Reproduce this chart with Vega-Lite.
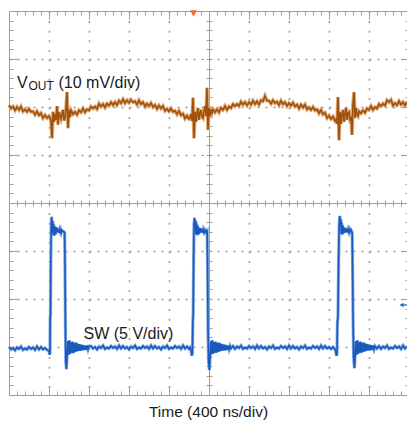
{
"$schema": "https://vega.github.io/schema/vega-lite/v6.json",
"width": 398, "height": 384,
"autosize": {"type": "none"},
"padding": {"left": 9, "top": 11, "right": 0, "bottom": 26},
"background": "white",
"config": {"view": {"stroke": null}},
"datasets": {
"vout": [
{"t":0,"v":2.04},{"t":20,"v":1.97},{"t":40,"v":2.01},{"t":60,"v":1.93},{"t":80,"v":2.00},{"t":100,"v":1.94},{"t":120,"v":2.01},{"t":140,"v":1.91},{"t":160,"v":1.95},{"t":180,"v":1.90},{"t":200,"v":1.96},{"t":220,"v":1.90},{"t":240,"v":1.91},{"t":260,"v":1.84},{"t":280,"v":1.91},{"t":300,"v":1.83},{"t":320,"v":1.87},{"t":340,"v":1.77},{"t":360,"v":1.83},{"t":380,"v":1.77},{"t":400,"v":1.81},
{"t":410,"v":1.77},{"t":420,"v":1.71},{"t":430,"v":1.35},{"t":440,"v":1.90},{"t":450,"v":1.69},{"t":460,"v":1.85},{"t":470,"v":1.73},{"t":480,"v":2.02},{"t":490,"v":1.63},{"t":500,"v":1.90},{"t":510,"v":1.80},{"t":520,"v":1.75},{"t":530,"v":1.86},{"t":540,"v":1.94},{"t":550,"v":1.72},{"t":560,"v":1.77},{"t":570,"v":1.98},{"t":580,"v":2.31},{"t":590,"v":1.56},{"t":600,"v":1.94},{"t":610,"v":1.79},
{"t":620,"v":1.93},{"t":640,"v":1.85},{"t":660,"v":1.90},{"t":680,"v":1.84},{"t":700,"v":1.93},{"t":720,"v":1.89},{"t":740,"v":1.97},{"t":760,"v":1.89},{"t":780,"v":1.95},{"t":800,"v":1.93},{"t":820,"v":2.01},{"t":840,"v":1.97},{"t":860,"v":2.01},{"t":880,"v":1.96},{"t":900,"v":2.07},{"t":920,"v":2.01},{"t":940,"v":2.06},{"t":960,"v":1.99},{"t":980,"v":2.07},{"t":1000,"v":2.03},{"t":1020,"v":2.10},{"t":1040,"v":2.04},{"t":1060,"v":2.10},{"t":1080,"v":2.04},{"t":1100,"v":2.13},{"t":1120,"v":2.08},{"t":1140,"v":2.16},{"t":1160,"v":2.08},{"t":1180,"v":2.14},{"t":1200,"v":2.09},{"t":1220,"v":2.15},{"t":1240,"v":2.10},{"t":1260,"v":2.12},{"t":1280,"v":2.05},{"t":1300,"v":2.14},{"t":1320,"v":2.06},{"t":1340,"v":2.10},{"t":1360,"v":2.01},{"t":1380,"v":2.07},{"t":1400,"v":2.02},{"t":1420,"v":2.08},{"t":1440,"v":2.00},{"t":1460,"v":2.04},{"t":1480,"v":1.96},{"t":1500,"v":2.03},{"t":1520,"v":1.97},{"t":1540,"v":2.02},{"t":1560,"v":1.92},{"t":1580,"v":1.96},{"t":1600,"v":1.91},{"t":1620,"v":1.97},{"t":1640,"v":1.90},{"t":1660,"v":1.92},{"t":1680,"v":1.85},{"t":1700,"v":1.92},{"t":1720,"v":1.83},{"t":1740,"v":1.86},{"t":1760,"v":1.76},{"t":1780,"v":1.82},{"t":1800,"v":1.75},
{"t":1810,"v":1.77},{"t":1820,"v":1.85},{"t":1830,"v":1.71},{"t":1840,"v":2.19},{"t":1850,"v":1.35},{"t":1860,"v":1.90},{"t":1870,"v":1.69},{"t":1880,"v":1.86},{"t":1890,"v":1.98},{"t":1900,"v":1.73},{"t":1910,"v":1.88},{"t":1920,"v":1.94},{"t":1930,"v":1.80},{"t":1940,"v":1.77},{"t":1950,"v":1.92},{"t":1960,"v":2.02},{"t":1970,"v":1.81},{"t":1980,"v":2.40},{"t":1990,"v":1.52},{"t":2000,"v":1.98},{"t":2010,"v":1.81},{"t":2020,"v":1.95},{"t":2030,"v":1.88},
{"t":2040,"v":1.95},{"t":2060,"v":1.89},{"t":2080,"v":1.95},{"t":2100,"v":1.89},{"t":2120,"v":1.98},{"t":2140,"v":1.94},{"t":2160,"v":2.02},{"t":2180,"v":1.94},{"t":2200,"v":2.01},{"t":2220,"v":1.98},{"t":2240,"v":2.06},{"t":2260,"v":2.02},{"t":2280,"v":2.06},{"t":2300,"v":2.02},{"t":2320,"v":2.11},{"t":2340,"v":2.05},{"t":2360,"v":2.10},{"t":2380,"v":2.03},{"t":2400,"v":2.10},{"t":2420,"v":2.05},{"t":2440,"v":2.13},{"t":2460,"v":2.06},{"t":2480,"v":2.12},{"t":2500,"v":2.05},{"t":2520,"v":2.14},{"t":2540,"v":2.12},{"t":2560,"v":2.23},{"t":2580,"v":2.13},{"t":2600,"v":2.13},{"t":2620,"v":2.07},{"t":2640,"v":2.14},{"t":2660,"v":2.08},{"t":2680,"v":2.11},{"t":2700,"v":2.04},{"t":2720,"v":2.13},{"t":2740,"v":2.06},{"t":2760,"v":2.10},{"t":2780,"v":2.02},{"t":2800,"v":2.08},{"t":2820,"v":2.03},{"t":2840,"v":2.09},{"t":2860,"v":2.01},{"t":2880,"v":2.05},{"t":2900,"v":1.97},{"t":2920,"v":2.05},{"t":2940,"v":1.99},{"t":2960,"v":2.05},{"t":2980,"v":1.95},{"t":3000,"v":1.99},{"t":3020,"v":1.94},{"t":3040,"v":2.00},{"t":3060,"v":1.93},{"t":3080,"v":1.95},{"t":3100,"v":1.87},{"t":3120,"v":1.94},{"t":3140,"v":1.85},{"t":3160,"v":1.88},{"t":3180,"v":1.77},{"t":3200,"v":1.82},{"t":3220,"v":1.75},{"t":3240,"v":1.80},{"t":3260,"v":1.71},
{"t":3270,"v":1.73},{"t":3280,"v":1.65},{"t":3290,"v":2.21},{"t":3300,"v":1.31},{"t":3310,"v":1.90},{"t":3320,"v":1.65},{"t":3330,"v":1.84},{"t":3340,"v":1.94},{"t":3350,"v":1.69},{"t":3360,"v":1.86},{"t":3370,"v":1.98},{"t":3380,"v":1.73},{"t":3390,"v":1.88},{"t":3400,"v":1.90},{"t":3410,"v":1.74},{"t":3420,"v":1.77},{"t":3430,"v":1.42},{"t":3440,"v":2.06},{"t":3450,"v":2.31},{"t":3460,"v":1.77},{"t":3470,"v":1.98},{"t":3480,"v":1.84},{"t":3490,"v":1.81},
{"t":3500,"v":1.91},{"t":3520,"v":1.87},{"t":3540,"v":1.93},{"t":3560,"v":1.88},{"t":3580,"v":1.97},{"t":3600,"v":1.94},{"t":3620,"v":2.02},{"t":3640,"v":1.94},{"t":3660,"v":2.00},{"t":3680,"v":1.97},{"t":3700,"v":2.06},{"t":3720,"v":2.02},{"t":3740,"v":2.07},{"t":3760,"v":2.03},{"t":3780,"v":2.14},{"t":3800,"v":2.10},{"t":3820,"v":2.15},{"t":3840,"v":2.03},{"t":3860,"v":2.08},{"t":3880,"v":2.04},{"t":3900,"v":2.12},{"t":3920,"v":2.05},{"t":3940,"v":2.10},{"t":3960,"v":2.03},{"t":3980,"v":2.11}
],
"sw": [
{"t":0,"v":-3.00},{"t":20,"v":-3.05},{"t":40,"v":-3.02},{"t":60,"v":-3.07},{"t":80,"v":-3.01},{"t":100,"v":-3.04},{"t":120,"v":-2.99},{"t":140,"v":-3.06},{"t":160,"v":-3.03},{"t":180,"v":-3.05},{"t":200,"v":-3.00},{"t":220,"v":-3.04},{"t":240,"v":-3.01},{"t":260,"v":-3.06},{"t":280,"v":-2.99},{"t":300,"v":-3.05},{"t":320,"v":-3.00},{"t":340,"v":-3.05},{"t":360,"v":-3.02},{"t":380,"v":-3.06},
{"t":400,"v":-3.08},{"t":406,"v":-3.16},{"t":410,"v":-3.12},{"t":412,"v":-2.40},{"t":415,"v":-2.30},{"t":418,"v":-1.20},{"t":422,"v":-0.50},{"t":426,"v":-0.29},{"t":430,"v":-0.40},{"t":434,"v":-0.62},{"t":438,"v":-0.38},{"t":442,"v":-0.66},{"t":446,"v":-0.44},{"t":450,"v":-0.68},{"t":454,"v":-0.48},{"t":458,"v":-0.63},{"t":462,"v":-0.52},{"t":466,"v":-0.66},{"t":470,"v":-0.50},{"t":476,"v":-0.62},{"t":482,"v":-0.52},{"t":488,"v":-0.60},{"t":494,"v":-0.55},{"t":500,"v":-0.62},{"t":506,"v":-0.56},{"t":512,"v":-0.60},{"t":518,"v":-0.56},{"t":524,"v":-0.61},{"t":530,"v":-0.57},{"t":540,"v":-0.59},{"t":550,"v":-0.60},{"t":556,"v":-0.62},{"t":560,"v":-1.30},{"t":564,"v":-2.50},{"t":568,"v":-3.30},{"t":574,"v":-3.46},{"t":580,"v":-3.22},{"t":588,"v":-2.88},{"t":596,"v":-3.16},{"t":604,"v":-2.86},{"t":612,"v":-3.14},{"t":620,"v":-2.90},{"t":628,"v":-3.12},{"t":636,"v":-2.89},{"t":644,"v":-3.13},{"t":652,"v":-2.92},{"t":660,"v":-3.10},{"t":668,"v":-2.91},{"t":676,"v":-3.09},{"t":684,"v":-2.93},{"t":692,"v":-3.08},{"t":700,"v":-2.94},{"t":710,"v":-3.08},{"t":720,"v":-2.95},{"t":730,"v":-3.07},{"t":740,"v":-2.96},{"t":750,"v":-3.06},{"t":760,"v":-2.97},{"t":770,"v":-3.06},{"t":780,"v":-2.97},{"t":790,"v":-3.05},{"t":800,"v":-2.98},
{"t":820,"v":-2.98},{"t":840,"v":-3.03},{"t":860,"v":-3.00},{"t":880,"v":-3.05},{"t":900,"v":-2.99},{"t":920,"v":-3.02},{"t":940,"v":-2.97},{"t":960,"v":-3.04},{"t":980,"v":-3.01},{"t":1000,"v":-3.03},{"t":1020,"v":-2.98},{"t":1040,"v":-3.02},{"t":1060,"v":-2.99},{"t":1080,"v":-3.04},{"t":1100,"v":-2.97},{"t":1120,"v":-3.03},{"t":1140,"v":-2.98},{"t":1160,"v":-3.03},{"t":1180,"v":-3.00},{"t":1200,"v":-3.05},{"t":1220,"v":-2.99},{"t":1240,"v":-3.02},{"t":1260,"v":-2.97},{"t":1280,"v":-3.04},{"t":1300,"v":-3.01},{"t":1320,"v":-3.03},{"t":1340,"v":-2.98},{"t":1360,"v":-3.02},{"t":1380,"v":-2.99},{"t":1400,"v":-3.04},{"t":1420,"v":-2.97},{"t":1440,"v":-3.03},{"t":1460,"v":-2.98},{"t":1480,"v":-3.03},{"t":1500,"v":-3.00},{"t":1520,"v":-3.05},{"t":1540,"v":-2.99},{"t":1560,"v":-3.02},{"t":1580,"v":-2.97},{"t":1600,"v":-3.04},{"t":1620,"v":-3.01},{"t":1640,"v":-3.03},{"t":1660,"v":-2.98},{"t":1680,"v":-3.02},{"t":1700,"v":-2.99},{"t":1720,"v":-3.04},{"t":1740,"v":-2.97},{"t":1760,"v":-3.03},{"t":1780,"v":-2.99},{"t":1800,"v":-3.04},
{"t":1810,"v":-3.01},{"t":1820,"v":-3.06},{"t":1828,"v":-3.18},{"t":1834,"v":-3.12},{"t":1838,"v":-2.50},{"t":1842,"v":-2.30},{"t":1846,"v":-1.20},{"t":1850,"v":-0.45},{"t":1855,"v":-0.31},{"t":1860,"v":-0.45},{"t":1864,"v":-0.36},{"t":1868,"v":-0.64},{"t":1872,"v":-0.40},{"t":1876,"v":-0.66},{"t":1880,"v":-0.45},{"t":1884,"v":-0.67},{"t":1888,"v":-0.48},{"t":1892,"v":-0.63},{"t":1896,"v":-0.52},{"t":1900,"v":-0.65},{"t":1906,"v":-0.52},{"t":1912,"v":-0.62},{"t":1918,"v":-0.53},{"t":1924,"v":-0.60},{"t":1930,"v":-0.55},{"t":1936,"v":-0.62},{"t":1942,"v":-0.56},{"t":1948,"v":-0.60},{"t":1954,"v":-0.57},{"t":1960,"v":-0.61},{"t":1970,"v":-0.58},{"t":1976,"v":-0.62},{"t":1982,"v":-0.60},{"t":1986,"v":-1.40},{"t":1990,"v":-2.60},{"t":1996,"v":-3.30},{"t":2004,"v":-3.48},{"t":2010,"v":-3.26},{"t":2018,"v":-2.88},{"t":2026,"v":-3.15},{"t":2034,"v":-2.86},{"t":2042,"v":-3.14},{"t":2050,"v":-2.90},{"t":2058,"v":-3.12},{"t":2066,"v":-2.89},{"t":2074,"v":-3.12},{"t":2082,"v":-2.92},{"t":2090,"v":-3.10},{"t":2098,"v":-2.91},{"t":2106,"v":-3.09},{"t":2114,"v":-2.93},{"t":2122,"v":-3.08},{"t":2130,"v":-2.94},{"t":2140,"v":-3.07},{"t":2150,"v":-2.95},{"t":2160,"v":-3.07},{"t":2170,"v":-2.96},{"t":2180,"v":-3.06},{"t":2190,"v":-2.97},{"t":2200,"v":-3.05},{"t":2210,"v":-2.98},
{"t":2220,"v":-3.03},{"t":2240,"v":-2.98},{"t":2260,"v":-3.04},{"t":2280,"v":-2.99},{"t":2300,"v":-3.02},{"t":2320,"v":-2.97},{"t":2340,"v":-3.04},{"t":2360,"v":-3.01},{"t":2380,"v":-3.03},{"t":2400,"v":-2.98},{"t":2420,"v":-3.02},{"t":2440,"v":-2.99},{"t":2460,"v":-3.04},{"t":2480,"v":-2.97},{"t":2500,"v":-3.03},{"t":2520,"v":-2.98},{"t":2540,"v":-3.03},{"t":2560,"v":-3.00},{"t":2580,"v":-3.05},{"t":2600,"v":-2.99},{"t":2620,"v":-3.02},{"t":2640,"v":-2.97},{"t":2660,"v":-3.04},{"t":2680,"v":-3.01},{"t":2700,"v":-3.03},{"t":2720,"v":-2.98},{"t":2740,"v":-3.02},{"t":2760,"v":-2.99},{"t":2780,"v":-3.04},{"t":2800,"v":-2.97},{"t":2820,"v":-3.03},{"t":2840,"v":-2.98},{"t":2860,"v":-3.03},{"t":2880,"v":-3.00},{"t":2900,"v":-3.05},{"t":2920,"v":-2.99},{"t":2940,"v":-3.02},{"t":2960,"v":-2.97},{"t":2980,"v":-3.04},{"t":3000,"v":-3.01},{"t":3020,"v":-3.03},{"t":3040,"v":-2.98},{"t":3060,"v":-3.02},{"t":3080,"v":-2.99},{"t":3100,"v":-3.04},{"t":3120,"v":-2.97},{"t":3140,"v":-3.03},{"t":3160,"v":-2.98},{"t":3180,"v":-3.03},{"t":3200,"v":-3.00},{"t":3220,"v":-3.04},{"t":3240,"v":-3.00},{"t":3260,"v":-3.05},
{"t":3266,"v":-3.08},{"t":3274,"v":-3.18},{"t":3280,"v":-3.14},{"t":3284,"v":-2.50},{"t":3290,"v":-2.35},{"t":3296,"v":-1.20},{"t":3302,"v":-0.45},{"t":3308,"v":-0.27},{"t":3313,"v":-0.42},{"t":3318,"v":-0.34},{"t":3322,"v":-0.63},{"t":3326,"v":-0.40},{"t":3330,"v":-0.66},{"t":3334,"v":-0.46},{"t":3338,"v":-0.64},{"t":3342,"v":-0.49},{"t":3346,"v":-0.63},{"t":3350,"v":-0.52},{"t":3356,"v":-0.62},{"t":3362,"v":-0.52},{"t":3368,"v":-0.60},{"t":3374,"v":-0.54},{"t":3380,"v":-0.61},{"t":3386,"v":-0.56},{"t":3392,"v":-0.59},{"t":3398,"v":-0.55},{"t":3404,"v":-0.60},{"t":3410,"v":-0.56},{"t":3416,"v":-0.59},{"t":3422,"v":-0.57},{"t":3428,"v":-0.60},{"t":3432,"v":-0.62},{"t":3436,"v":-1.40},{"t":3440,"v":-2.30},{"t":3446,"v":-3.20},{"t":3454,"v":-3.44},{"t":3460,"v":-3.24},{"t":3468,"v":-2.88},{"t":3476,"v":-3.16},{"t":3484,"v":-2.86},{"t":3492,"v":-3.14},{"t":3500,"v":-2.90},{"t":3508,"v":-3.12},{"t":3516,"v":-2.89},{"t":3524,"v":-3.12},{"t":3532,"v":-2.92},{"t":3540,"v":-3.10},{"t":3548,"v":-2.91},{"t":3556,"v":-3.09},{"t":3564,"v":-2.93},{"t":3572,"v":-3.08},{"t":3580,"v":-2.94},{"t":3590,"v":-3.07},{"t":3600,"v":-2.95},{"t":3610,"v":-3.07},{"t":3620,"v":-2.96},{"t":3630,"v":-3.06},{"t":3640,"v":-2.97},{"t":3650,"v":-3.05},{"t":3660,"v":-2.98},
{"t":3680,"v":-3.03},{"t":3700,"v":-2.98},{"t":3720,"v":-3.04},{"t":3740,"v":-2.99},{"t":3760,"v":-3.02},{"t":3780,"v":-2.97},{"t":3800,"v":-3.04},{"t":3820,"v":-3.01},{"t":3840,"v":-3.03},{"t":3860,"v":-2.98},{"t":3880,"v":-3.02},{"t":3900,"v":-2.99},{"t":3920,"v":-3.04},{"t":3940,"v":-2.97},{"t":3960,"v":-3.03},{"t":3980,"v":-2.99}
]
},
"layer": [
{"data": {"name": "vout"},
 "mark": {"type": "line", "color": "#dba877", "strokeWidth": 3.6},
 "encoding": {
  "x": {"field": "t", "type": "quantitative", "scale": {"domain": [0, 3980], "nice": false, "zero": false},
   "axis": {"orient": "bottom", "values": [0,80,160,240,320,400,480,560,640,720,800,880,960,1040,1120,1200,1280,1360,1440,1520,1600,1680,1760,1840,1920,2000,2080,2160,2240,2320,2400,2480,2560,2640,2720,2800,2880,2960,3040,3120,3200,3280,3360,3440,3520,3600,3680,3760,3840,3920],
    "labels": false, "domain": true, "domainColor": "#a6a083", "tickColor": "#a6a083",
    "tickSize": {"condition": {"test": "datum.value % 400 === 0", "value": -8}, "value": -4},
    "grid": true, "gridColor": "#9e987c", "gridWidth": 1.5, "gridDash": [2, 7.6],
    "gridOpacity": {"condition": {"test": "datum.value % 400 === 0 && datum.value > 0 && datum.value !== 2000", "value": 1}, "value": 0},
    "title": "Time (400 ns/div)", "titleFont": "Liberation Sans", "titleFontSize": 15.5, "titleFontWeight": "normal", "titleColor": "#1a1a1a", "titlePadding": 9}},
  "y": {"field": "v", "type": "quantitative", "scale": {"domain": [-4, 4], "nice": false, "zero": false},
   "axis": {"orient": "left", "values": [-4,-3.8,-3.6,-3.4,-3.2,-3,-2.8,-2.6,-2.4,-2.2,-2,-1.8,-1.6,-1.4,-1.2,-1,-0.8,-0.6,-0.4,-0.2,0,0.2,0.4,0.6,0.8,1,1.2,1.4,1.6,1.8,2,2.2,2.4,2.6,2.8,3,3.2,3.4,3.6,3.8,4],
    "labels": false, "domain": true, "domainColor": "#a6a083", "tickColor": "#a6a083",
    "tickSize": {"condition": {"test": "abs(datum.value - round(datum.value)) < 0.01", "value": -8}, "value": -4},
    "grid": true, "gridColor": "#9e987c", "gridWidth": 1.5, "gridDash": [2, 6],
    "gridOpacity": {"condition": {"test": "abs(datum.value - round(datum.value)) < 0.01 && abs(datum.value) > 0.5 && abs(datum.value) < 3.5", "value": 1}, "value": 0},
    "title": null}}
 }},
{"data": {"name": "vout"},
 "mark": {"type": "line", "color": "#a0520c", "strokeWidth": 1.6},
 "encoding": {
  "x": {"field": "t", "type": "quantitative", "scale": {"domain": [0, 3980], "nice": false, "zero": false},
   "axis": {"orient": "top", "values": [0,80,160,240,320,400,480,560,640,720,800,880,960,1040,1120,1200,1280,1360,1440,1520,1600,1680,1760,1840,1920,2000,2080,2160,2240,2320,2400,2480,2560,2640,2720,2800,2880,2960,3040,3120,3200,3280,3360,3440,3520,3600,3680,3760,3840,3920],
    "labels": false, "domain": true, "domainColor": "#a6a083", "tickColor": "#a6a083",
    "tickSize": {"condition": {"test": "datum.value % 400 === 0", "value": -8}, "value": -4},
    "grid": false, "title": null}},
  "y": {"field": "v", "type": "quantitative", "scale": {"domain": [-4, 4], "nice": false, "zero": false},
   "axis": {"orient": "right", "values": [-4,-3.8,-3.6,-3.4,-3.2,-3,-2.8,-2.6,-2.4,-2.2,-2,-1.8,-1.6,-1.4,-1.2,-1,-0.8,-0.6,-0.4,-0.2,0,0.2,0.4,0.6,0.8,1,1.2,1.4,1.6,1.8,2,2.2,2.4,2.6,2.8,3,3.2,3.4,3.6,3.8,4],
    "labels": false, "domain": false, "tickColor": "#a6a083",
    "tickSize": {"condition": {"test": "abs(datum.value - round(datum.value)) < 0.01", "value": -6}, "value": -2},
    "grid": false, "title": null}}
 }},
{"data": {"name": "sw"},
 "mark": {"type": "line", "color": "#84abe2", "strokeWidth": 3.2},
 "encoding": {
  "x": {"field": "t", "type": "quantitative", "scale": {"domain": [0, 3980], "nice": false, "zero": false},
   "axis": {"orient": "bottom", "offset": -192, "values": [0,80,160,240,320,400,480,560,640,720,800,880,960,1040,1120,1200,1280,1360,1440,1520,1600,1680,1760,1840,1920,2000,2080,2160,2240,2320,2400,2480,2560,2640,2720,2800,2880,2960,3040,3120,3200,3280,3360,3440,3520,3600,3680,3760,3840,3920],
    "labels": false, "domain": true, "domainColor": "#a6a083", "tickColor": "#a6a083", "tickSize": 3, "grid": false, "title": null}},
  "y": {"field": "v", "type": "quantitative", "scale": {"domain": [-4, 4], "nice": false, "zero": false},
   "axis": {"orient": "left", "offset": -200, "values": [-4,-3.8,-3.6,-3.4,-3.2,-3,-2.8,-2.6,-2.4,-2.2,-2,-1.8,-1.6,-1.4,-1.2,-1,-0.8,-0.6,-0.4,-0.2,0,0.2,0.4,0.6,0.8,1,1.2,1.4,1.6,1.8,2,2.2,2.4,2.6,2.8,3,3.2,3.4,3.6,3.8,4],
    "labels": false, "domain": true, "domainColor": "#a6a083", "tickColor": "#a6a083", "tickSize": 3, "grid": false, "title": null}}
 }},
{"data": {"name": "sw"},
 "mark": {"type": "line", "color": "#1a5abf", "strokeWidth": 1.6},
 "encoding": {
  "x": {"field": "t", "type": "quantitative", "scale": {"domain": [0, 3980], "nice": false, "zero": false},
   "axis": {"orient": "top", "offset": -192, "values": [0,80,160,240,320,400,480,560,640,720,800,880,960,1040,1120,1200,1280,1360,1440,1520,1600,1680,1760,1840,1920,2000,2080,2160,2240,2320,2400,2480,2560,2640,2720,2800,2880,2960,3040,3120,3200,3280,3360,3440,3520,3600,3680,3760,3840,3920],
    "labels": false, "domain": false, "tickColor": "#a6a083", "tickSize": 3, "grid": false, "title": null}},
  "y": {"field": "v", "type": "quantitative", "scale": {"domain": [-4, 4], "nice": false, "zero": false},
   "axis": {"orient": "right", "offset": -198, "values": [-4,-3.8,-3.6,-3.4,-3.2,-3,-2.8,-2.6,-2.4,-2.2,-2,-1.8,-1.6,-1.4,-1.2,-1,-0.8,-0.6,-0.4,-0.2,0,0.2,0.4,0.6,0.8,1,1.2,1.4,1.6,1.8,2,2.2,2.4,2.6,2.8,3,3.2,3.4,3.6,3.8,4],
    "labels": false, "domain": false, "tickColor": "#a6a083", "tickSize": 3, "grid": false, "title": null}}
 }},
{"data": {"values": [{"t": 1845, "v": 3.95}]},
 "mark": {"type": "point", "shape": "triangle-down", "filled": true, "color": "#f26a1b", "size": 50, "opacity": 1},
 "encoding": {
  "x": {"field": "t", "type": "quantitative", "axis": null},
  "y": {"field": "v", "type": "quantitative", "axis": null}}},
{"data": {"values": [{"t": 3925, "v": -2.125}]},
 "mark": {"type": "point", "shape": "triangle-left", "filled": true, "color": "#2a66c8", "size": 22, "opacity": 1},
 "encoding": {
  "x": {"field": "t", "type": "quantitative", "axis": null},
  "y": {"field": "v", "type": "quantitative", "axis": null}}},
{"data": {"values": [{"t": 3930, "t2": 3980, "v": -2.125}]},
 "mark": {"type": "rule", "color": "#2a66c8", "strokeWidth": 1.3},
 "encoding": {
  "x": {"field": "t", "type": "quantitative", "axis": null},
  "x2": {"field": "t2"},
  "y": {"field": "v", "type": "quantitative", "axis": null}}},
{"data": {"values": [{"label": "V", "t": 80, "v": 2.396}]},
 "mark": {"type": "text", "font": "Liberation Sans", "fontSize": 16, "align": "left", "baseline": "alphabetic", "color": "#1a1a1a"},
 "encoding": {
  "x": {"field": "t", "type": "quantitative", "axis": null},
  "y": {"field": "v", "type": "quantitative", "axis": null},
  "text": {"field": "label"}}},
{"data": {"values": [{"label": "OUT", "t": 195, "v": 2.36}]},
 "mark": {"type": "text", "font": "Liberation Sans", "fontSize": 12, "align": "left", "baseline": "alphabetic", "color": "#1a1a1a"},
 "encoding": {
  "x": {"field": "t", "type": "quantitative", "axis": null},
  "y": {"field": "v", "type": "quantitative", "axis": null},
  "text": {"field": "label"}}},
{"data": {"values": [{"label": "(10 mV/div)", "t": 495, "v": 2.396}]},
 "mark": {"type": "text", "font": "Liberation Sans", "fontSize": 16, "align": "left", "baseline": "alphabetic", "color": "#1a1a1a"},
 "encoding": {
  "x": {"field": "t", "type": "quantitative", "axis": null},
  "y": {"field": "v", "type": "quantitative", "axis": null},
  "text": {"field": "label"}}},
{"data": {"values": [{"label": "SW (5 V/div)", "t": 745, "v": -2.833}]},
 "mark": {"type": "text", "font": "Liberation Sans", "fontSize": 16, "align": "left", "baseline": "alphabetic", "color": "#1a1a1a"},
 "encoding": {
  "x": {"field": "t", "type": "quantitative", "axis": null},
  "y": {"field": "v", "type": "quantitative", "axis": null},
  "text": {"field": "label"}}}
],
"resolve": {"axis": {"x": "independent", "y": "independent"}}
}
